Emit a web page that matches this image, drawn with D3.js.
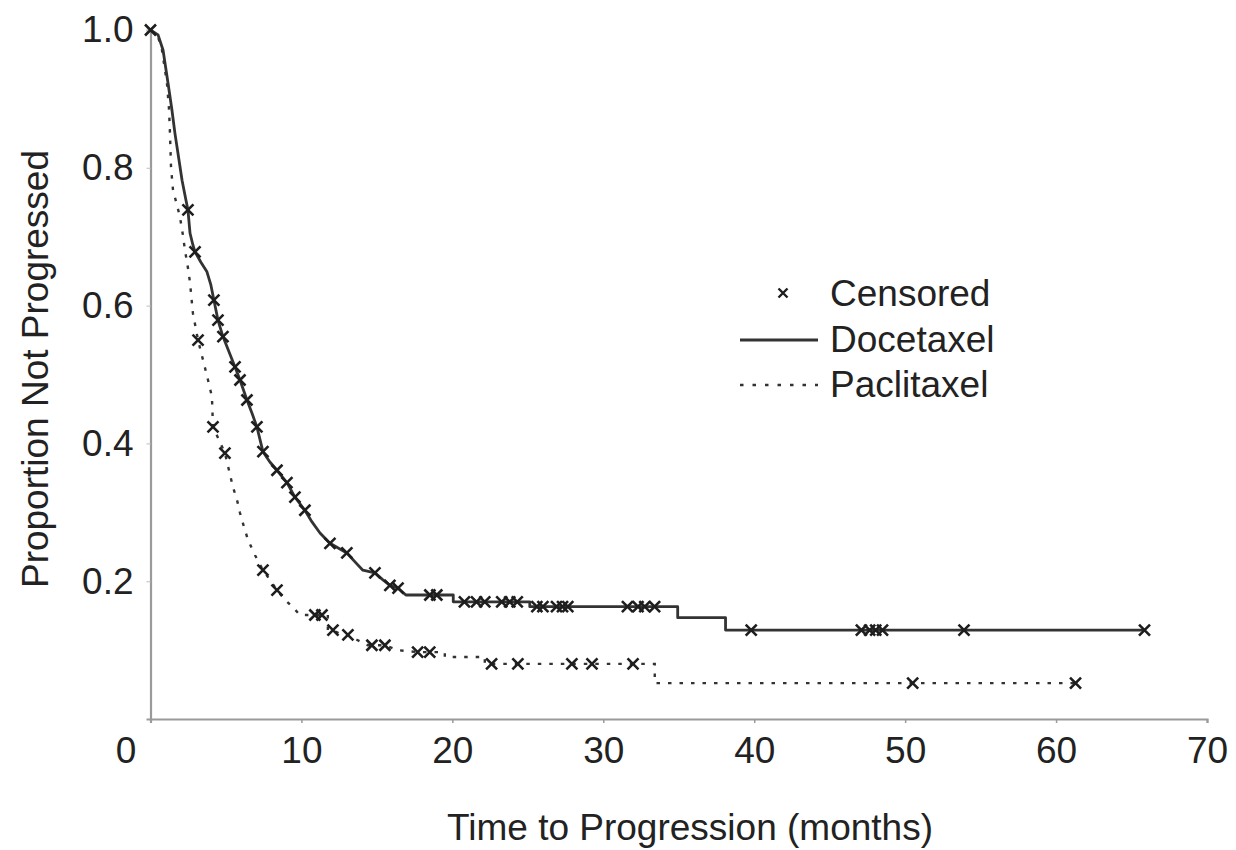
<!DOCTYPE html>
<html>
<head>
<meta charset="utf-8">
<script src="https://cdn.jsdelivr.net/npm/d3@7"></script>
<style>
  html, body { margin: 0; padding: 0; background: #fff; }
  svg { display: block; }
  text { font-family: "Liberation Sans", Arial, Helvetica, sans-serif; fill: #222; }
</style>
</head>
<body>
<svg id="chart" width="1236" height="850"></svg>
<script>
// Kaplan-Meier estimates: [time in months, proportion not progressed, censored flag]
const docetaxel = [
  [0, 1.000, 1], [0.5, 0.993, 0], [0.83, 0.971, 0], [1.16, 0.923, 0], [1.42, 0.884, 0],
  [1.62, 0.850, 0], [1.89, 0.811, 0], [2.09, 0.782, 0], [2.35, 0.753, 0], [2.48, 0.739, 1],
  [2.62, 0.705, 0], [2.81, 0.688, 0], [2.95, 0.678, 1], [3.34, 0.663, 0], [3.74, 0.649, 0],
  [4.00, 0.630, 0], [4.20, 0.608, 1], [4.47, 0.579, 1], [4.80, 0.555, 1], [5.20, 0.533, 0],
  [5.60, 0.511, 1], [5.93, 0.492, 1], [6.39, 0.463, 1], [6.72, 0.444, 0], [7.05, 0.424, 1],
  [7.45, 0.388, 1], [7.91, 0.373, 0], [8.38, 0.361, 1], [9.04, 0.343, 1], [9.57, 0.322, 1],
  [10.23, 0.303, 1], [10.70, 0.286, 0], [11.23, 0.270, 0], [11.89, 0.255, 1], [13.01, 0.241, 1],
  [13.55, 0.228, 0], [14.07, 0.216, 0], [14.87, 0.212, 1], [15.40, 0.202, 0], [15.86, 0.194, 1],
  [16.40, 0.190, 1], [16.92, 0.180, 0], [18.51, 0.180, 1], [18.97, 0.180, 1], [20.06, 0.180, 0],
  [20.06, 0.170, 0], [20.80, 0.170, 1], [21.60, 0.170, 1], [22.15, 0.170, 1], [23.27, 0.170, 1],
  [23.80, 0.170, 1], [24.30, 0.170, 1], [25.13, 0.170, 0], [25.13, 0.163, 0], [25.60, 0.163, 1],
  [26.00, 0.163, 1], [26.90, 0.163, 1], [27.30, 0.163, 1], [27.65, 0.163, 1], [31.60, 0.163, 1],
  [32.30, 0.163, 1], [32.75, 0.163, 1], [33.40, 0.163, 1], [34.93, 0.163, 0], [34.93, 0.147, 0],
  [38.10, 0.147, 0], [38.10, 0.129, 0], [39.80, 0.129, 1], [47.10, 0.129, 1], [47.65, 0.129, 1],
  [48.05, 0.129, 1], [48.50, 0.129, 1], [53.90, 0.129, 1], [65.86, 0.129, 1]
];

const paclitaxel = [
  [0, 1.000, 0], [0.5, 0.990, 0], [0.76, 0.971, 0], [1.09, 0.923, 0], [1.23, 0.884, 0],
  [1.29, 0.850, 0], [1.36, 0.801, 0], [1.49, 0.768, 0], [1.75, 0.746, 0], [1.95, 0.729, 0],
  [2.15, 0.702, 0], [2.28, 0.681, 0], [2.48, 0.655, 0], [2.62, 0.633, 0], [2.81, 0.589, 0],
  [3.15, 0.550, 1], [3.48, 0.521, 0], [3.81, 0.492, 0], [4.07, 0.468, 0], [4.14, 0.424, 1],
  [4.54, 0.405, 0], [4.93, 0.386, 1], [5.20, 0.361, 0], [5.46, 0.337, 0], [5.73, 0.318, 0],
  [5.93, 0.299, 0], [6.19, 0.279, 0], [6.46, 0.260, 0], [6.92, 0.238, 0], [7.45, 0.216, 1],
  [7.91, 0.202, 0], [8.38, 0.187, 1], [8.91, 0.173, 0], [9.44, 0.162, 0], [9.90, 0.151, 0],
  [10.89, 0.151, 1], [11.36, 0.151, 1], [11.75, 0.151, 0], [11.75, 0.129, 0], [12.09, 0.129, 1],
  [12.68, 0.122, 0], [13.08, 0.122, 1], [13.67, 0.115, 0], [14.40, 0.107, 0], [14.67, 0.107, 1],
  [15.53, 0.107, 1], [16.39, 0.100, 0], [17.70, 0.097, 1], [18.50, 0.097, 1], [19.50, 0.097, 0],
  [19.50, 0.090, 0], [22.15, 0.090, 0], [22.15, 0.080, 0], [22.60, 0.080, 1], [24.34, 0.080, 1],
  [27.92, 0.080, 1], [29.25, 0.080, 1], [31.97, 0.080, 1], [33.41, 0.080, 0], [33.41, 0.052, 0],
  [50.50, 0.052, 1], [61.29, 0.052, 1]
];

const xTicks = [0, 10, 20, 30, 40, 50, 60, 70];
const yTicks = [0.2, 0.4, 0.6, 0.8, 1.0];
const legendItems = ["Censored", "Docetaxel", "Paclitaxel"];

const svg = d3.select("#chart");
const x = d3.scaleLinear().domain([0, 70]).range([150.5, 1207]);
const y = d3.scaleLinear().domain([0, 1]).range([719, 30]);

const AXIS = "#9a9a9a";
const INK = "#333";
const FONT = 37;

// x axis
const gx = svg.append("g").attr("transform", `translate(0,${y(0)})`)
  .call(d3.axisBottom(x).tickValues(xTicks).tickFormat(d3.format("d")).tickSize(4).tickPadding(14));
gx.select(".domain").attr("stroke", AXIS).attr("stroke-width", 2.2);
gx.selectAll(".tick line").attr("stroke", AXIS).attr("stroke-width", 1.5);
gx.selectAll(".tick text").attr("font-size", FONT).attr("fill", "#222")
  .attr("font-family", "Liberation Sans, Arial, sans-serif")
  .attr("dx", d => d === 0 ? -25 : 0);
gx.selectAll(".tick").filter(d => d === 0).select("line").remove();

// y axis
const gy = svg.append("g").attr("transform", `translate(${x(0)},0)`)
  .call(d3.axisLeft(y).tickValues(yTicks).tickFormat(d3.format(".1f")).tickSize(4).tickPadding(13));
gy.select(".domain").attr("stroke", AXIS).attr("stroke-width", 2.2);
gy.selectAll(".tick line").attr("stroke", "#c8c8c8").attr("stroke-width", 1.2);
gy.selectAll(".tick text").attr("font-size", FONT).attr("fill", "#222")
  .attr("font-family", "Liberation Sans, Arial, sans-serif");

// axis titles
svg.append("text").attr("x", 690).attr("y", 840).attr("text-anchor", "middle")
  .attr("font-size", FONT).text("Time to Progression (months)");
svg.append("text").attr("transform", `translate(48,${369}) rotate(-90)`)
  .attr("text-anchor", "middle").attr("font-size", FONT).text("Proportion Not Progressed");

// survival curves
const line = d3.line().x(d => x(d[0])).y(d => y(d[1])).curve(d3.curveLinear);

svg.append("path").datum(docetaxel).attr("d", line)
  .attr("fill", "none").attr("stroke", INK).attr("stroke-width", 2.8)
  .attr("stroke-linejoin", "round");

svg.append("path").datum(paclitaxel).attr("d", line)
  .attr("fill", "none").attr("stroke", INK).attr("stroke-width", 2.4)
  .attr("stroke-dasharray", "3.5,8");

// censoring marks
const cross = (sel, s, w) => sel.append("path")
  .attr("d", `M${-s},${-s}L${s},${s}M${-s},${s}L${s},${-s}`)
  .attr("stroke", "#1e1e1e").attr("stroke-width", w).attr("fill", "none");

[docetaxel, paclitaxel].forEach(series => {
  svg.append("g").selectAll("g").data(series.filter(d => d[2] === 1)).join("g")
    .attr("transform", d => `translate(${x(d[0])},${y(d[1])})`)
    .each(function () { cross(d3.select(this), 5.5, 2.6); });
});

// legend
const lg = svg.append("g");
const rows = [293, 339, 384];
lg.selectAll("text").data(legendItems).join("text")
  .attr("x", 830).attr("y", (d, i) => rows[i]).attr("dy", "0.35em")
  .attr("font-size", FONT).text(d => d);
cross(lg.append("g").attr("transform", `translate(783,${rows[0]})`), 4.5, 2.4);
lg.append("line").attr("x1", 740).attr("x2", 818).attr("y1", rows[1] + 1).attr("y2", rows[1] + 1)
  .attr("stroke", INK).attr("stroke-width", 3);
lg.append("line").attr("x1", 740).attr("x2", 818).attr("y1", rows[2] + 1).attr("y2", rows[2] + 1)
  .attr("stroke", INK).attr("stroke-width", 2.4).attr("stroke-dasharray", "3.5,9");
</script>
</body>
</html>
